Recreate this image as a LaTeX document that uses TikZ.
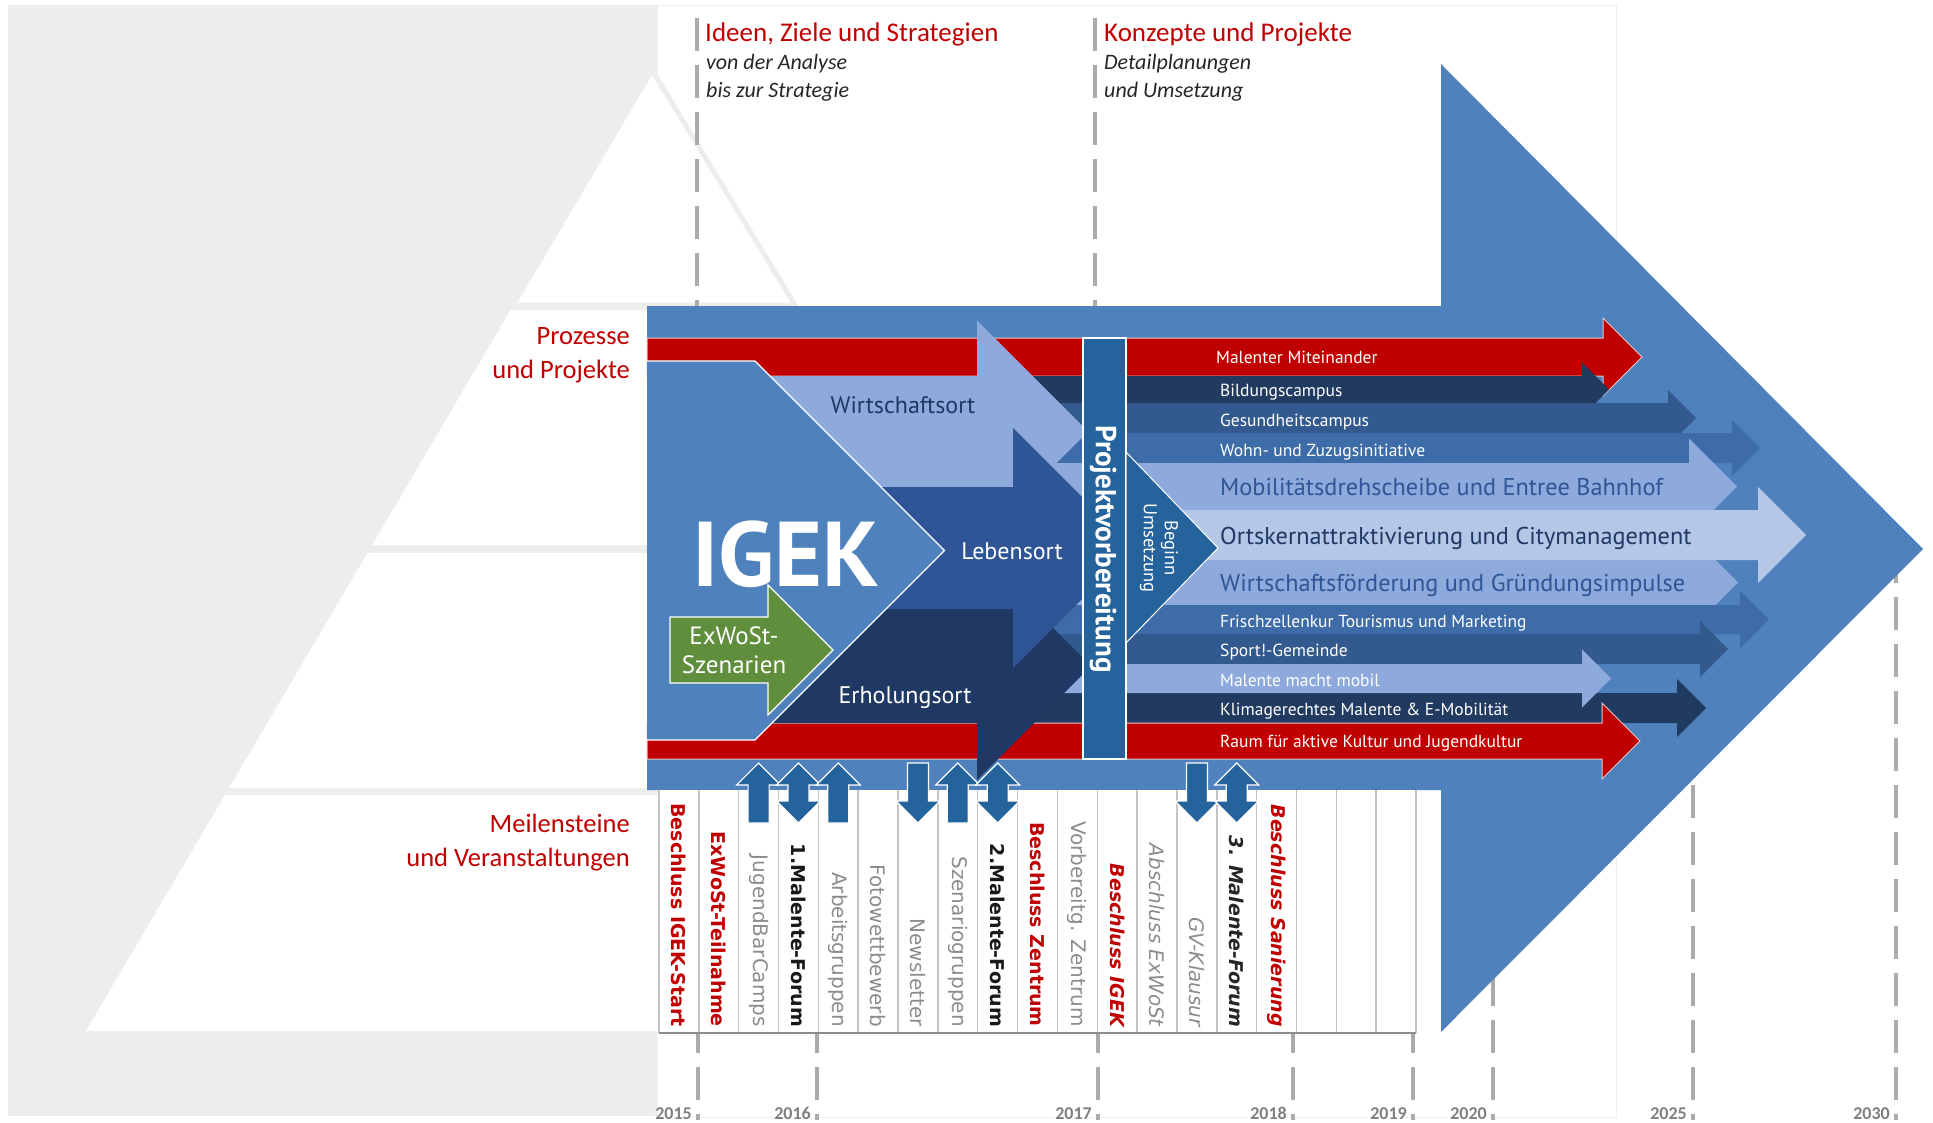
\documentclass[tikz,border=0pt]{standalone}
\usepackage{fontspec}
\setmainfont{Carlito}
\newfontfamily\din{PT Sans}
\newfontfamily\dvs{DejaVu Sans}
\usetikzlibrary{calc}
\definecolor{bgblue}{HTML}{4F81BD}
\definecolor{redA}{HTML}{C00000}
\definecolor{redline}{HTML}{E6C8C8}
\definecolor{navyA}{HTML}{213A60}
\definecolor{navyB}{HTML}{1F3864}
\definecolor{midblue}{HTML}{2F5597}
\definecolor{gesund}{HTML}{335A8F}
\definecolor{wohn}{HTML}{3D6CA8}
\definecolor{lightA}{HTML}{8EA9DB}
\definecolor{paleA}{HTML}{B4C7E7}
\definecolor{barblue}{HTML}{24639B}
\definecolor{greenA}{HTML}{5F8E3D}
\definecolor{pgray}{HTML}{EDEDED}
\definecolor{boxline}{HTML}{F0F0F0}
\definecolor{dashgray}{HTML}{ABABAB}
\definecolor{txtgray}{HTML}{8C8C8C}
\definecolor{yeargray}{HTML}{7F7F7F}
\definecolor{colline}{HTML}{C4C4C4}
\definecolor{subtxt}{HTML}{262626}
\newcommand\fsz[1]{\fontsize{#1}{#1}\selectfont}
\newcommand\harrow[6]{%
  \pgfmathsetmacro\hyc{(#3+#4)/2}%
  \pgfmathsetmacro\hyt{\hyc-#6}%
  \pgfmathsetmacro\hyb{\hyc+#6}%
  \pgfmathsetmacro\hxt{#5+#6}%
  \path[#1] (#2,#3) -- (#5,#3) -- (#5,\hyt) -- (\hxt,\hyc) -- (#5,\hyb) -- (#5,#4) -- (#2,#4) -- cycle;}
\newcommand\uparr[1]{\filldraw[smarr] (#1,763) -- ++(22,22) -- ++(-11.5,0) -- ++(0,38) -- ++(-21,0) -- ++(0,-38) -- ++(-11.5,0) -- cycle;}
\newcommand\dnarr[1]{\filldraw[smarr] (#1-10.5,763) -- ++(21,0) -- ++(0,38) -- ++(11.5,0) -- ++(-22,22) -- ++(-22,-22) -- ++(11.5,0) -- cycle;}
\newcommand\dblarr[1]{\filldraw[smarr] (#1,763) -- ++(22,22) -- ++(-11.5,0) -- ++(0,16) -- ++(11.5,0) -- ++(-22,22) -- ++(-22,-22) -- ++(11.5,0) -- ++(0,-16) -- ++(-11.5,0) -- cycle;}
\tikzset{
  yl/.style={draw=dashgray, line width=4.5, dash pattern=on 33 off 14},
  smarr/.style={fill=barblue, draw=white, line width=1.2, line join=miter},
  hdr/.style={anchor=base west, inner sep=0, text=redA, font=\fsz{27}},
  sub/.style={anchor=base west, inner sep=0, text=subtxt, font=\itshape\fsz{22}},
  lbl/.style={anchor=base east, inner sep=0, text=redA, font=\fsz{26.5}},
  yr/.style={anchor=base east, inner sep=0, text=yeargray, font=\bfseries\fsz{18}},
  pt/.style={anchor=base west, inner sep=0, text=white, font=\din\fsz{17.5}},
  ptb/.style={anchor=base west, inner sep=0, font=\din\fsz{24.3}},
  sortlbl/.style={anchor=base, inner sep=0, font=\din\fsz{24}},
  ct/.style={rotate=-90, anchor=east, inner sep=0},
  cRB/.style={ct, text=redA, font=\dvs\bfseries\fsz{19}},
  cRBI/.style={ct, text=redA, font=\dvs\bfseries\itshape\fsz{19}},
  cG/.style={ct, text=txtgray, font=\dvs\fsz{20}},
  cGI/.style={ct, text=txtgray, font=\dvs\itshape\fsz{20}},
  cKB/.style={ct, text=black!90, font=\dvs\bfseries\fsz{19}},
  cKBI/.style={ct, text=black!85, font=\dvs\bfseries\itshape\fsz{19}},
}
\begin{document}
\begin{tikzpicture}[x=1pt,y=-1pt]
\useasboundingbox (0,0) rectangle (1933,1122);
\fill[white] (0,0) rectangle (1933,1122);
% background areas
\fill[pgray] (8,5) rectangle (657,1116);
\filldraw[fill=white, draw=boxline, line width=1] (657,5) rectangle (1616,1117);
% pyramid
\filldraw[fill=white, draw=pgray, line width=5, line join=miter] (652,70) -- (795,305) -- (513,305) -- cycle;
\fill[white] (510.6,310) -- (700,310) -- (700,545) -- (372.2,545) -- cycle;
\fill[white] (367.5,553) -- (700,553) -- (700,788) -- (229.1,788) -- cycle;
\fill[white] (225,795) -- (700,795) -- (700,1031) -- (86,1031) -- cycle;
% year lines
\draw[yl] (697,18) -- (697,306);
\draw[yl] (1095,18) -- (1095,306);
\foreach \x in {698,817,1098,1293,1413} \draw[yl] (\x,1020) -- (\x,1120);
\draw[yl] (1493,973) -- (1493,1120);
\draw[yl] (1693,785) -- (1693,1120);
\draw[yl] (1896,550) -- (1896,1120);
\node[yr] (y15) at (692,1119) {2015};
\node[yr] (y16) at (811,1119) {2016};
\node[yr] (y17) at (1092,1119) {2017};
\node[yr] (y18) at (1287,1119) {2018};
\node[yr] (y19) at (1407,1119) {2019};
\node[yr] (y20) at (1487,1119) {2020};
\node[yr] (y25) at (1687,1119) {2025};
\node[yr] (y30) at (1890,1119) {2030};
% headers
\node[hdr] (h1) at (705,41) {Ideen, Ziele und Strategien};
\node[sub] (h1a) at (706,69) {von der Analyse};
\node[sub] (h1b) at (706,97) {bis zur Strategie};
\node[hdr] (h2) at (1104,41) {Konzepte und Projekte};
\node[sub] (h2a) at (1104,69) {Detailplanungen};
\node[sub] (h2b) at (1104,97) {und Umsetzung};
% left labels
\node[lbl] (l1) at (630,344) {Prozesse};
\node[lbl] (l2) at (630,378) {und Projekte};
\node[lbl] (l3) at (630,832) {Meilensteine};
\node[lbl] (l4) at (630,866) {und Veranstaltungen};
% big arrow
\fill[bgblue] (647,306) -- (1441,306) -- (1441,64) -- (1923,549) -- (1441,1032) -- (1441,790) -- (647,790) -- cycle;
% project bands
\harrow{fill=redA, draw=redline, line width=1}{647}{338}{376}{1603}{39}
\harrow{fill=navyA}{1000}{376}{403}{1582}{27}
\harrow{fill=gesund}{1000}{403}{433}{1668}{28}
\harrow{fill=wohn}{1000}{433}{463}{1732}{28}
\harrow{fill=lightA}{1000}{463}{510}{1689}{48}
\harrow{fill=lightA}{1000}{560}{605}{1692}{46}
\harrow{fill=paleA}{1000}{510}{560}{1758}{48}
\harrow{fill=wohn}{1000}{605}{634}{1740}{29}
\harrow{fill=gesund}{1000}{634}{664}{1700}{28}
\harrow{fill=navyA}{1000}{693}{723}{1677}{29}
\harrow{fill=lightA}{1000}{664}{693}{1582}{29}
\harrow{fill=redA, draw=redline, line width=1}{647}{723}{759}{1602}{38}
% sort arrows
\harrow{fill=lightA}{700}{376}{487}{977}{111}
\harrow{fill=navyB}{700}{609}{723}{977}{114}
\harrow{fill=midblue}{700}{487}{609}{1013}{120}
% IGEK pentagon
\filldraw[fill=bgblue, draw=white, line width=1.3, line join=miter] (647,361) -- (755,361) -- (944.5,550.5) -- (755,740) -- (647,740);
% ExWoSt arrow
\filldraw[fill=greenA, draw=white, line width=1.2, line join=miter] (670,617) -- (768,617) -- (768,585) -- (833,650) -- (768,715) -- (768,683) -- (670,683) -- cycle;
% Projektvorbereitung bar
\filldraw[fill=barblue, draw=white, line width=1.5] (1083,338) rectangle (1126,759);
% Beginn Umsetzung triangle
\filldraw[fill=barblue, draw=white, line width=1, line join=miter] (1126,452) -- (1218,548) -- (1126,643) -- cycle;
% texts in left part
\node[inner sep=0, text=white, font=\din\bfseries\fsz{92}] (igek) at (786,554) {IGEK};
\node[sortlbl, text=navyB] (wo) at (903,413) {Wirtschaftsort};
\node[sortlbl, text=white] (lo) at (1012,559) {Lebensort};
\node[sortlbl, text=white] (eo) at (905,703) {Erholungsort};
\node[inner sep=0, text=white, font=\din\fontsize{25}{29}\selectfont, align=center] (ex) at (734,650) {ExWoSt-\\Szenarien};
\node[inner sep=0, text=white, font=\din\bfseries\fsz{29}, rotate=-90] (pv) at (1103,549) {Projektvorbereitung};
\node[inner sep=0, text=white, font=\din\fontsize{18.5}{21}\selectfont, rotate=-90, align=center] (bu) at (1159,548) {Beginn\\Umsetzung};
% project texts
\node[pt] (p1) at (1216,363) {Malenter Miteinander};
\node[pt] (p2) at (1220,396) {Bildungscampus};
\node[pt] (p3) at (1220,426) {Gesundheitscampus};
\node[pt] (p4) at (1220,456) {Wohn- und Zuzugsinitiative};
\node[ptb, text=midblue] (p5) at (1220,495) {Mobilitätsdrehscheibe und Entree Bahnhof};
\node[ptb, text=navyB] (p6) at (1220,544) {Ortskernattraktivierung und Citymanagement};
\node[ptb, text=midblue] (p7) at (1220,591) {Wirtschaftsförderung und Gründungsimpulse};
\node[pt] (p8) at (1220,627) {Frischzellenkur Tourismus und Marketing};
\node[pt] (p9) at (1220,656) {Sport!-Gemeinde};
\node[pt] (p10) at (1220,686) {Malente macht mobil};
\node[pt] (p11) at (1220,715) {Klimagerechtes Malente \& E-Mobilität};
\node[pt] (p12) at (1220,747) {Raum für aktive Kultur und Jugendkultur};
% timeline table
\fill[white] (659,790) rectangle (1416,1033);
\foreach \i in {0,...,19} \draw[colline, line width=1.5] ({659+39.84*\i},790) -- ({659+39.84*\i},1033);
\draw[black!45, line width=2] (659,1033) -- (1416,1033);
\node[cRB] (t1) at (678.9,1027) {Beschluss IGEK-Start};
\node[cRB] (t2) at (718.8,1027) {ExWoSt-Teilnahme};
\node[cG] (t3) at (758.6,1027) {JugendBarCamps};
\node[cKB] (t4) at (798.5,1027) {1.Malente-Forum};
\node[cG] (t5) at (838.3,1027) {Arbeitsgruppen};
\node[cG] (t6) at (878.1,1027) {Fotowettbewerb};
\node[cG] (t7) at (918.0,1027) {Newsletter};
\node[cG] (t8) at (957.8,1027) {Szenariogruppen};
\node[cKB] (t9) at (997.7,1027) {2.Malente-Forum};
\node[cRB] (t10) at (1037.5,1027) {Beschluss Zentrum};
\node[cG] (t11) at (1077.4,1027) {Vorbereitg. Zentrum};
\node[cRBI] (t12) at (1117.2,1027) {Beschluss IGEK};
\node[cGI] (t13) at (1157.0,1027) {Abschluss ExWoSt};
\node[cGI] (t14) at (1196.9,1027) {GV-Klausur};
\node[cKBI] (t15) at (1236.7,1027) {3. Malente-Forum};
\node[cRBI] (t16) at (1276.6,1027) {Beschluss Sanierung};
% small arrows
\uparr{758.6}
\dblarr{798.5}
\uparr{838.3}
\dnarr{918.0}
\uparr{957.8}
\dblarr{997.7}
\dnarr{1196.9}
\dblarr{1236.7}
\end{tikzpicture}
\end{document}
